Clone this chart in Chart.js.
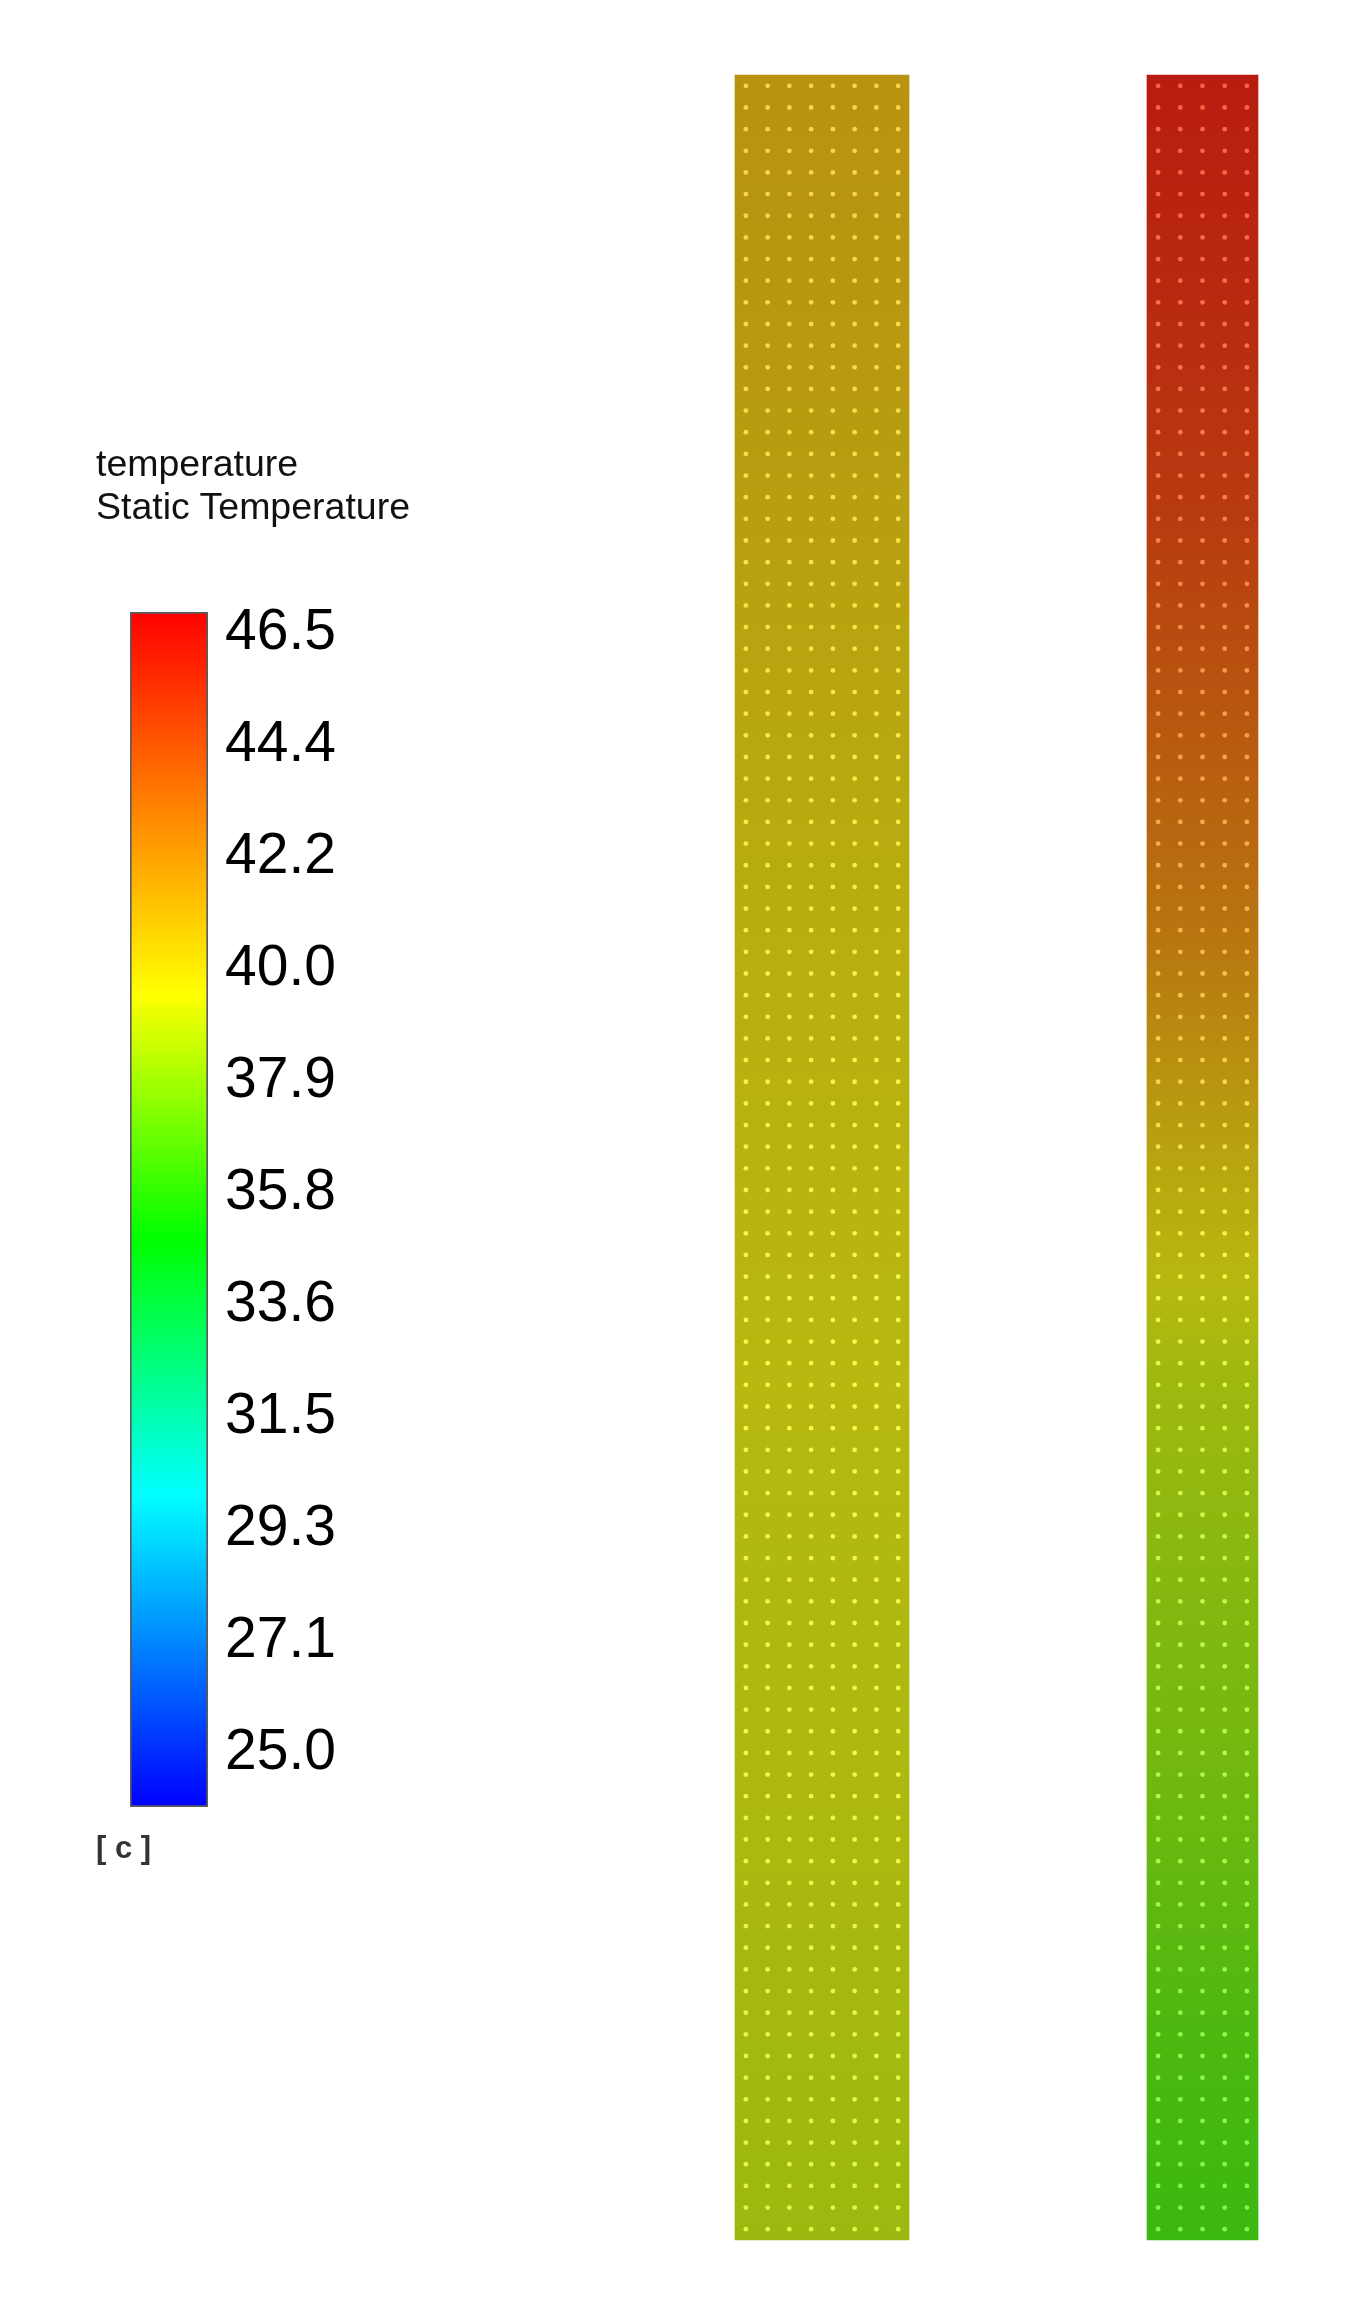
<!DOCTYPE html>
<html>
<head>
<meta charset="utf-8">
<script src="https://cdn.jsdelivr.net/npm/chart.js@4.4.0/dist/chart.umd.min.js"></script>
<style>
  body { margin: 0; background: #fff; width: 1360px; height: 2324px; position: relative; overflow: hidden;
         font-family: 'Liberation Sans', Arial, sans-serif; }
  #tubes { position: absolute; left: 0; top: 0; }
  #legend { position: absolute; left: 0; top: 560px; }
  .txt { position: absolute; line-height: 1; white-space: nowrap; color: #111; }
</style>
</head>
<body>
<canvas id="tubes" width="1360" height="2324"></canvas>
<canvas id="legend" width="358" height="1300"></canvas>
<div class="txt" style="left:96px;top:445px;font-size:37.5px">temperature</div>
<div class="txt" style="left:96px;top:488px;font-size:37.5px">Static Temperature</div>
<div class="txt" style="left:96px;top:1832px;font-size:31px;font-weight:bold;color:#333">[ c ]</div>
<script>
// position along each tube, % of length, bottom -> top
const stations = [0, 10, 20, 30, 40, 50, 60, 70, 80, 90, 100];
// static temperature [c] at those stations
const tube1Temp = [38.8, 39.0, 39.2, 39.3, 39.5, 39.7, 39.9, 40.2, 40.5, 40.8, 41.0];
const tube2Temp = [36.3, 36.8, 37.6, 38.2, 38.9, 40.3, 42.1, 43.3, 44.5, 45.2, 45.7];
const tubeNames = ['Tube 1', 'Tube 2'];
const legendTicks = [25.0, 27.1, 29.3, 31.5, 33.6, 35.8, 37.9, 40.0, 42.2, 44.4, 46.5];
const legendRange = [23.89, 46.83];
const meshColumns = [8, 5];
const meshRows = 100;

const profiles = [tube1Temp, tube2Temp];

// rainbow ramp used by the contour legend
const rampStops = [
    [23.89, [0, 0, 255]],
    [29.9, [0, 255, 255]],
    [34.8, [0, 255, 0]],
    [39.5, [255, 255, 0]],
    [46.83, [255, 0, 0]]
];

function rampColor(t) {
    if (t <= rampStops[0][0]) return rampStops[0][1];
    for (let i = 1; i < rampStops.length; i++) {
        const [t1, c1] = rampStops[i];
        if (t <= t1) {
            const [t0, c0] = rampStops[i - 1];
            const f = (t - t0) / (t1 - t0);
            return c0.map((v, k) => v + (c1[k] - v) * f);
        }
    }
    return rampStops[rampStops.length - 1][1];
}

function tempAt(profile, pos) {
    if (pos <= stations[0]) return profile[0];
    for (let i = 1; i < stations.length; i++) {
        if (pos <= stations[i]) {
            const f = (pos - stations[i - 1]) / (stations[i] - stations[i - 1]);
            return profile[i - 1] + (profile[i] - profile[i - 1]) * f;
        }
    }
    return profile[profile.length - 1];
}

const css = c => `rgb(${c.map(v => Math.round(Math.max(0, Math.min(255, v)))).join(',')})`;
// lit surface is darker than the legend colours
const shaded = c => css([c[0] * 0.72, c[1] * 0.72, c[2] * 0.72 + 16]);
const lighter = c => `rgba(${c.map(v => Math.round(v + (255 - v) * 0.3)).join(',')},0.9)`;

function tubeFill(profile) {
    return ctx => {
        const chart = ctx.chart;
        if (!chart.chartArea) return null;
        const y = chart.scales.y;
        const lo = stations[0], hi = stations[stations.length - 1];
        const p0 = y.getPixelForValue(lo), p1 = y.getPixelForValue(hi);
        const g = chart.ctx.createLinearGradient(0, p0, 0, p1);
        for (let s = lo; s <= hi; s += 1) {
            g.addColorStop((y.getPixelForValue(s) - p0) / (p1 - p0), shaded(rampColor(tempAt(profile, s))));
        }
        return g;
    };
}

function legendFill(ctx) {
    const chart = ctx.chart;
    if (!chart.chartArea) return null;
    const y = chart.scales.y;
    const p0 = y.getPixelForValue(legendRange[0]), p1 = y.getPixelForValue(legendRange[1]);
    const g = chart.ctx.createLinearGradient(0, p0, 0, p1);
    rampStops.forEach(([t, c]) => g.addColorStop((y.getPixelForValue(t) - p0) / (p1 - p0), css(c)));
    return g;
}

// mesh nodes shown as small light dots on the tube faces
const meshDots = {
    id: 'meshDots',
    afterDatasetsDraw(chart) {
        const c = chart.ctx, y = chart.scales.y;
        chart.data.datasets.forEach((ds, i) => {
            chart.getDatasetMeta(i).data.forEach((bar, j) => {
                if (!Array.isArray(ds.data[j])) return;
                const p = bar.getProps(['x', 'y', 'base', 'width'], true);
                const top = Math.min(p.y, p.base), h = Math.abs(p.base - p.y);
                const nx = meshColumns[j], dx = p.width / nx, dy = h / meshRows;
                const left = p.x - p.width / 2;
                for (let r = 0; r < meshRows; r++) {
                    const py = top + dy * (r + 0.5);
                    c.fillStyle = lighter(rampColor(tempAt(profiles[j], y.getValueForPixel(py))));
                    for (let k = 0; k < nx; k++) {
                        c.beginPath();
                        c.arc(left + dx * (k + 0.5), py, 2.4, 0, Math.PI * 2);
                        c.fill();
                    }
                }
            });
        });
    }
};

new Chart(document.getElementById('tubes'), {
    type: 'bar',
    data: {
        labels: tubeNames,
        datasets: [
            { label: tubeNames[0], data: [[stations[0], stations[10]], null], backgroundColor: tubeFill(tube1Temp),
              barThickness: 174, clip: false },
            { label: tubeNames[1], data: [null, [stations[0], stations[10]]], backgroundColor: tubeFill(tube2Temp),
              barThickness: 111, clip: false }
        ]
    },
    options: {
        responsive: false,
        animation: false,
        events: [],
        grouped: false,
        layout: { padding: { left: 822, right: 157.5, top: 75, bottom: 84 } },
        plugins: { legend: { display: false }, tooltip: { enabled: false } },
        scales: {
            x: { display: false, offset: false, grid: { offset: false } },
            y: { display: false, min: stations[0], max: stations[10] }
        }
    },
    plugins: [meshDots]
});

// legend labels sit at equal steps between the first and last value
const tickFirst = legendTicks[0], tickLast = legendTicks[legendTicks.length - 1];
const tickStep = (tickLast - tickFirst) / (legendTicks.length - 1);

new Chart(document.getElementById('legend'), {
    type: 'bar',
    data: {
        labels: ['Static Temperature'],
        datasets: [{
            data: [legendRange],
            backgroundColor: legendFill,
            borderColor: 'rgba(50,50,50,0.8)',
            borderWidth: 2,
            borderSkipped: false,
            categoryPercentage: 1,
            barPercentage: 1
        }]
    },
    options: {
        responsive: false,
        animation: false,
        events: [],
        layout: { padding: { left: 130, top: 52, bottom: 53, right: 0 } },
        plugins: { legend: { display: false }, tooltip: { enabled: false } },
        scales: {
            x: { display: false },
            y: {
                position: 'right',
                min: legendRange[0],
                max: legendRange[1],
                afterFit: s => { s.width = 150; },
                afterBuildTicks: s => { s.ticks = legendTicks.map((v, i) => ({ value: tickFirst + i * tickStep })); },
                ticks: {
                    padding: 17,
                    labelOffset: 4,
                    autoSkip: false,
                    color: '#000',
                    font: { family: "'Liberation Sans', Arial, sans-serif", size: 57 },
                    callback: (v, i) => legendTicks[i].toFixed(1)
                },
                grid: { display: false, drawTicks: false },
                border: { display: false }
            }
        }
    }
});
</script>
</body>
</html>
